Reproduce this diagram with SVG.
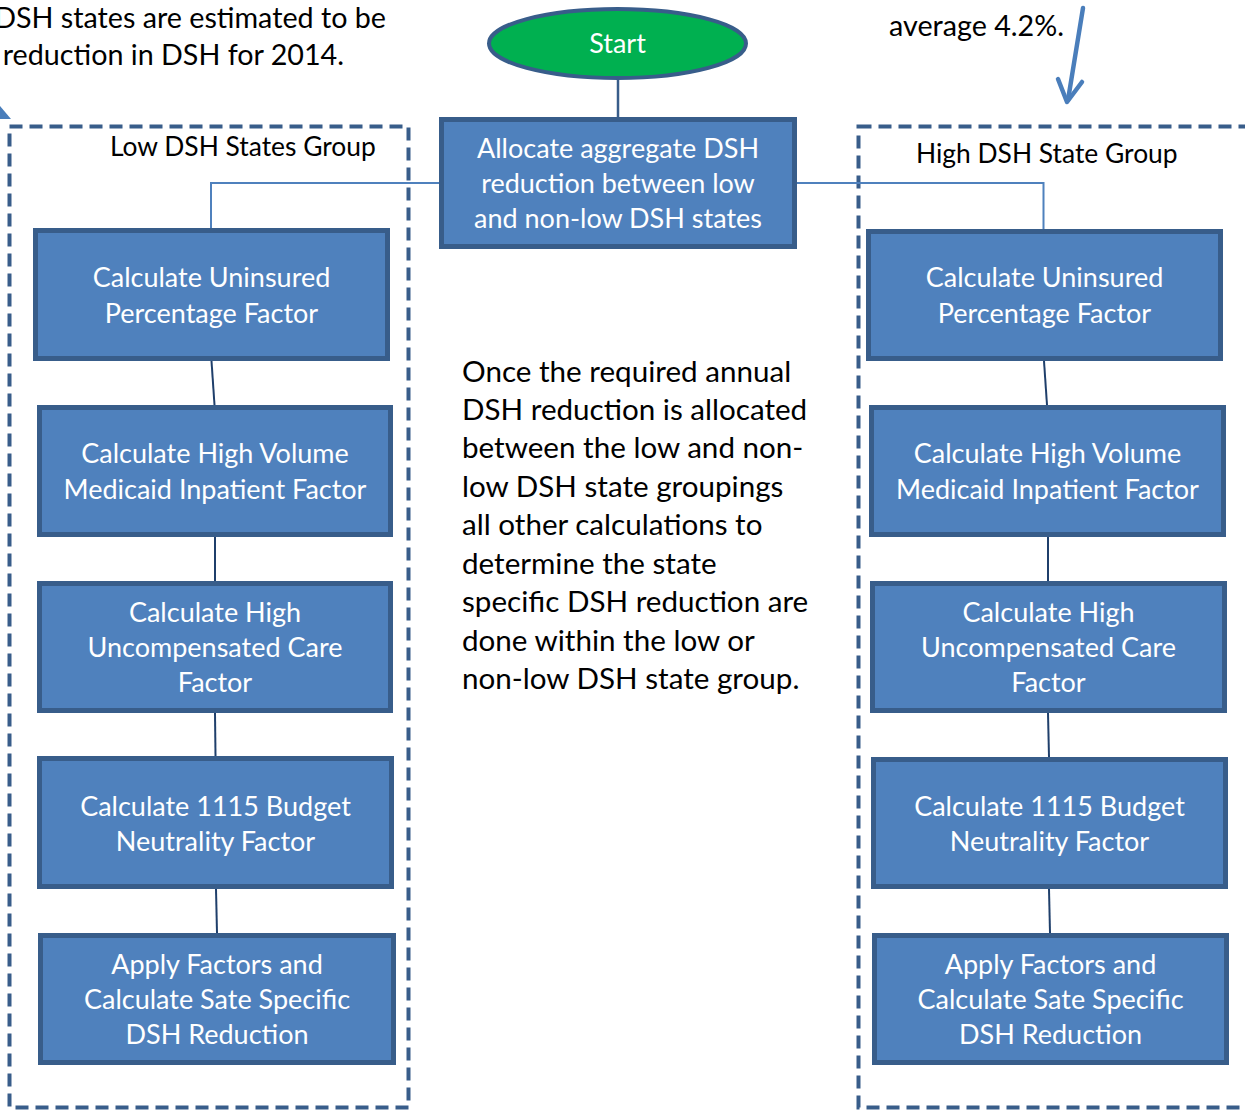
<svg xmlns="http://www.w3.org/2000/svg" width="1245" height="1111" viewBox="0 0 1245 1111">
  <style>
    .box { fill: #4F81BD; stroke: #385D8A; stroke-width: 5; }
    .group { fill: none; stroke: #385D8A; stroke-width: 4; stroke-dasharray: 13 7; }
    .lbl { font-family: Lato, "Open Sans", sans-serif; font-size: 27px; fill: #FFFFFF; text-anchor: middle; }
    .note { font-family: Lato, "Open Sans", sans-serif; font-size: 28.7px; fill: #000000; }
    .para { font-family: Lato, "Open Sans", sans-serif; font-size: 29.6px; fill: #000000; }
    .hdr { font-family: Lato, "Open Sans", sans-serif; font-size: 26.4px; fill: #000000; }
    .link { fill: none; stroke: #1F3F6B; stroke-width: 2; }
    .branch { fill: none; stroke: #4F81BD; stroke-width: 2; }
  </style>
  <rect width="1245" height="1111" fill="#FFFFFF"/>

  <!-- annotation text fragments at the top edge -->
  <g id="note-left">
    <text class="note" x="386" y="28" text-anchor="end">DSH states are estimated to be</text>
    <text class="note" x="344" y="65" text-anchor="end">reduction in DSH for 2014.</text>
    <polygon points="0,106 11,119 0,119" fill="#4A7EBB"/>
  </g>
  <g id="note-right">
    <text class="note" x="1064" y="36" text-anchor="end">average 4.2%.</text>
    <line x1="1083" y1="8" x2="1068" y2="100" stroke="#4A7EBB" stroke-width="4.5" stroke-linecap="round"/>
    <polyline points="1058,79 1067,102 1082,82" fill="none" stroke="#4A7EBB" stroke-width="4.5" stroke-linecap="round" stroke-linejoin="round"/>
  </g>

  <!-- group frames -->
  <g id="group-low">
    <rect class="group" x="9.5" y="126.5" width="399" height="981"/>
    <text class="hdr" x="110" y="156">Low DSH States Group</text>
  </g>
  <g id="group-high">
    <rect class="group" x="858.5" y="126.5" width="420" height="981"/>
    <text class="hdr" x="916" y="163">High DSH State Group</text>
  </g>

  <!-- connectors -->
  <g id="connectors">
    <line x1="618" y1="80" x2="618" y2="117" stroke="#385D8A" stroke-width="2.5"/>
    <polyline class="branch" points="439,183 211,183 211,228"/>
    <polyline class="branch" points="797,183 1043.5,183 1043.5,229"/>
    <line class="link" x1="211.5" y1="361" x2="214.5" y2="405"/>
    <line class="link" x1="215" y1="537" x2="215" y2="581"/>
    <line class="link" x1="215" y1="713" x2="215.5" y2="756"/>
    <line class="link" x1="216" y1="889" x2="217" y2="933"/>
    <line class="link" x1="1044" y1="361" x2="1047" y2="405"/>
    <line class="link" x1="1048" y1="537" x2="1048" y2="581"/>
    <line class="link" x1="1048" y1="713" x2="1049" y2="757"/>
    <line class="link" x1="1049" y1="889" x2="1050" y2="933"/>
  </g>

  <!-- start terminator -->
  <g id="start">
    <ellipse cx="617.5" cy="43.5" rx="128.5" ry="34.5" fill="#00B050" stroke="#385D8A" stroke-width="4"/>
    <text class="lbl" x="617.5" y="53">Start</text>
  </g>

  <g id="allocate">
    <rect class="box" x="441.5" y="119.5" width="353" height="127"/>
    <text class="lbl" x="618" y="158">Allocate aggregate DSH</text>
    <text class="lbl" x="618" y="193">reduction between low</text>
    <text class="lbl" x="618" y="228">and non-low DSH states</text>
  </g>

  <g id="explain">
    <text class="para" x="462" y="382">Once the required annual</text>
    <text class="para" x="462" y="420">DSH reduction is allocated</text>
    <text class="para" x="462" y="458">between the low and non-</text>
    <text class="para" x="462" y="497">low DSH state groupings</text>
    <text class="para" x="462" y="535">all other calculations to</text>
    <text class="para" x="462" y="574">determine the state</text>
    <text class="para" x="462" y="612">specific DSH reduction are</text>
    <text class="para" x="462" y="651">done within the low or</text>
    <text class="para" x="462" y="689">non-low DSH state group.</text>
  </g>

  <!-- low DSH state steps -->
  <g id="low-uninsured">
    <rect class="box" x="35.5" y="230.5" width="352" height="128"/>
    <text class="lbl" x="211.5" y="287">Calculate Uninsured</text>
    <text class="lbl" x="211.5" y="323">Percentage Factor</text>
  </g>
  <g id="low-volume">
    <rect class="box" x="39.5" y="407.5" width="351" height="127"/>
    <text class="lbl" x="215" y="463">Calculate High Volume</text>
    <text class="lbl" x="215" y="499">Medicaid Inpatient Factor</text>
  </g>
  <g id="low-uncomp">
    <rect class="box" x="39.5" y="583.5" width="351" height="127"/>
    <text class="lbl" x="215" y="622">Calculate High</text>
    <text class="lbl" x="215" y="657">Uncompensated Care</text>
    <text class="lbl" x="215" y="692">Factor</text>
  </g>
  <g id="low-budget">
    <rect class="box" x="39.5" y="758.5" width="352" height="128"/>
    <text class="lbl" x="215.5" y="816">Calculate 1115 Budget</text>
    <text class="lbl" x="215.5" y="851">Neutrality Factor</text>
  </g>
  <g id="low-apply">
    <rect class="box" x="40.5" y="935.5" width="353" height="127"/>
    <text class="lbl" x="217" y="974">Apply Factors and</text>
    <text class="lbl" x="217" y="1009">Calculate Sate Specific</text>
    <text class="lbl" x="217" y="1044">DSH Reduction</text>
  </g>

  <!-- high DSH state steps -->
  <g id="high-uninsured">
    <rect class="box" x="868.5" y="231.5" width="352" height="127"/>
    <text class="lbl" x="1044.5" y="287">Calculate Uninsured</text>
    <text class="lbl" x="1044.5" y="323">Percentage Factor</text>
  </g>
  <g id="high-volume">
    <rect class="box" x="871.5" y="407.5" width="352" height="127"/>
    <text class="lbl" x="1047.5" y="463">Calculate High Volume</text>
    <text class="lbl" x="1047.5" y="499">Medicaid Inpatient Factor</text>
  </g>
  <g id="high-uncomp">
    <rect class="box" x="872.5" y="583.5" width="352" height="127"/>
    <text class="lbl" x="1048.5" y="622">Calculate High</text>
    <text class="lbl" x="1048.5" y="657">Uncompensated Care</text>
    <text class="lbl" x="1048.5" y="692">Factor</text>
  </g>
  <g id="high-budget">
    <rect class="box" x="873.5" y="759.5" width="352" height="127"/>
    <text class="lbl" x="1049.5" y="816">Calculate 1115 Budget</text>
    <text class="lbl" x="1049.5" y="851">Neutrality Factor</text>
  </g>
  <g id="high-apply">
    <rect class="box" x="874.5" y="935.5" width="352" height="127"/>
    <text class="lbl" x="1050.5" y="974">Apply Factors and</text>
    <text class="lbl" x="1050.5" y="1009">Calculate Sate Specific</text>
    <text class="lbl" x="1050.5" y="1044">DSH Reduction</text>
  </g>
</svg>
